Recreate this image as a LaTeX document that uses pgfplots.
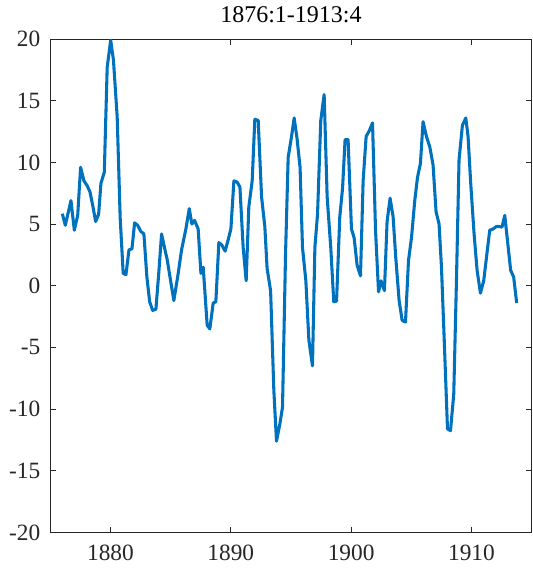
\documentclass[border=0pt]{standalone}
\usepackage{fontspec}
\setmainfont{Liberation Serif}
\usepackage{pgfplots}
\pgfplotsset{compat=1.18}
\usetikzlibrary{calc}
\definecolor{mblue}{rgb}{0,0.447,0.741}
\definecolor{axgray}{rgb}{0.15,0.15,0.15}
\begin{document}
\begin{tikzpicture}
\begin{axis}[
  scale only axis,
  width=361pt, height=370.1pt,
  xmin=1875, xmax=1915, ymin=-20, ymax=20,
  xtick={1880,1890,1900,1910},
  ytick={-20,-15,-10,-5,0,5,10,15,20},
  tick align=inside, tick pos=both,
  major tick length=4.4pt,
  axis line style={axgray, line width=0.6pt},
  every tick/.style={axgray, line width=0.6pt},
  tick label style={font=\fontsize{17.5}{20}\selectfont, text=axgray},
  /pgf/number format/assume math mode=true,
  /pgf/number format/1000 sep={},
  title={1876:1-1913:4},
  title style={font=\fontsize{18}{21}\selectfont, yshift=2.5pt},
  xticklabel style={yshift=-6pt},
  yticklabel style={xshift=-4pt},
]
\addplot[mblue, line width=2.3pt, line join=round] coordinates {
(1876.00,5.84)(1876.25,4.9)(1876.72,6.9)(1877.00,4.5)(1877.28,5.7)(1877.52,9.6)
(1877.80,8.5)(1878.07,8.1)(1878.30,7.6)(1878.55,6.4)(1878.77,5.2)(1879.02,5.8)
(1879.21,8.3)(1879.49,9.2)(1879.73,17.7)(1880.02,19.9)(1880.25,18.3)(1880.56,13.7)
(1880.81,5.5)(1881.06,1.0)(1881.29,0.9)(1881.54,2.9)(1881.79,3.0)(1882.01,5.1)
(1882.26,4.9)(1882.53,4.4)(1882.78,4.2)(1883.03,0.7)(1883.26,-1.3)(1883.51,-2.0)
(1883.78,-1.9)(1884.03,1.2)(1884.25,4.2)(1884.49,3.1)(1884.72,2.1)(1885.00,0.4)
(1885.27,-1.2)(1885.63,1.0)(1885.91,2.9)(1886.27,4.6)(1886.55,6.25)(1886.77,5.0)
(1886.99,5.3)(1887.29,4.6)(1887.52,1.0)(1887.71,1.5)(1888.04,-3.2)(1888.26,-3.5)
(1888.54,-1.4)(1888.76,-1.3)(1889.01,3.5)(1889.26,3.3)(1889.53,2.8)(1889.78,3.7)
(1890.01,4.6)(1890.26,8.5)(1890.53,8.4)(1890.76,8.0)(1891.03,3.1)(1891.28,0.4)
(1891.50,6.4)(1891.78,8.5)(1892.00,13.5)(1892.28,13.4)(1892.56,7.2)(1892.83,4.8)
(1893.02,1.4)(1893.31,-0.4)(1893.58,-8.5)(1893.80,-12.6)(1894.08,-11.2)(1894.30,-9.85)
(1894.55,2.5)(1894.77,10.4)(1895.05,12.1)(1895.27,13.6)(1895.51,11.9)(1895.76,9.6)
(1895.96,3.1)(1896.24,0.4)(1896.49,-4.4)(1896.79,-6.5)(1896.99,3.1)(1897.21,5.8)
(1897.48,13.4)(1897.76,15.5)(1898.01,7.2)(1898.31,3.1)(1898.56,-1.3)(1898.79,-1.25)
(1899.06,5.6)(1899.29,7.9)(1899.50,11.85)(1899.75,11.85)(1900.03,4.6)(1900.25,3.9)
(1900.50,1.65)(1900.78,0.8)(1901.00,8.5)(1901.25,12.1)(1901.53,12.6)(1901.78,13.2)
(1902.03,4.5)(1902.28,-0.5)(1902.49,0.4)(1902.77,-0.4)(1902.99,5.2)(1903.24,7.1)
(1903.49,5.6)(1903.71,2.3)(1903.99,-1.2)(1904.24,-2.8)(1904.52,-2.95)(1904.77,2.05)
(1905.02,3.9)(1905.29,6.9)(1905.52,8.8)(1905.76,9.9)(1905.98,13.3)(1906.26,12.1)
(1906.54,11.25)(1906.81,9.8)(1907.06,6.0)(1907.31,5.0)(1907.51,1.5)(1907.72,-3.9)
(1908.01,-11.6)(1908.26,-11.75)(1908.53,-8.8)(1908.75,0.2)(1908.97,10.2)(1909.25,13.0)
(1909.53,13.6)(1909.72,12.1)(1909.94,8.3)(1910.22,4.2)(1910.47,1.25)(1910.75,-0.6)
(1911.02,0.4)(1911.30,2.7)(1911.52,4.5)(1911.79,4.6)(1912.08,4.8)(1912.29,4.8)
(1912.54,4.75)(1912.77,5.7)(1912.99,3.7)(1913.26,1.25)(1913.51,0.7)(1913.76,-1.4)
};
\end{axis}
\path ($(current axis.south west)+(-37.7pt,-31.9pt)$) rectangle ($(current axis.north east)+(1pt,29.25pt)$);
\end{tikzpicture}
\end{document}
